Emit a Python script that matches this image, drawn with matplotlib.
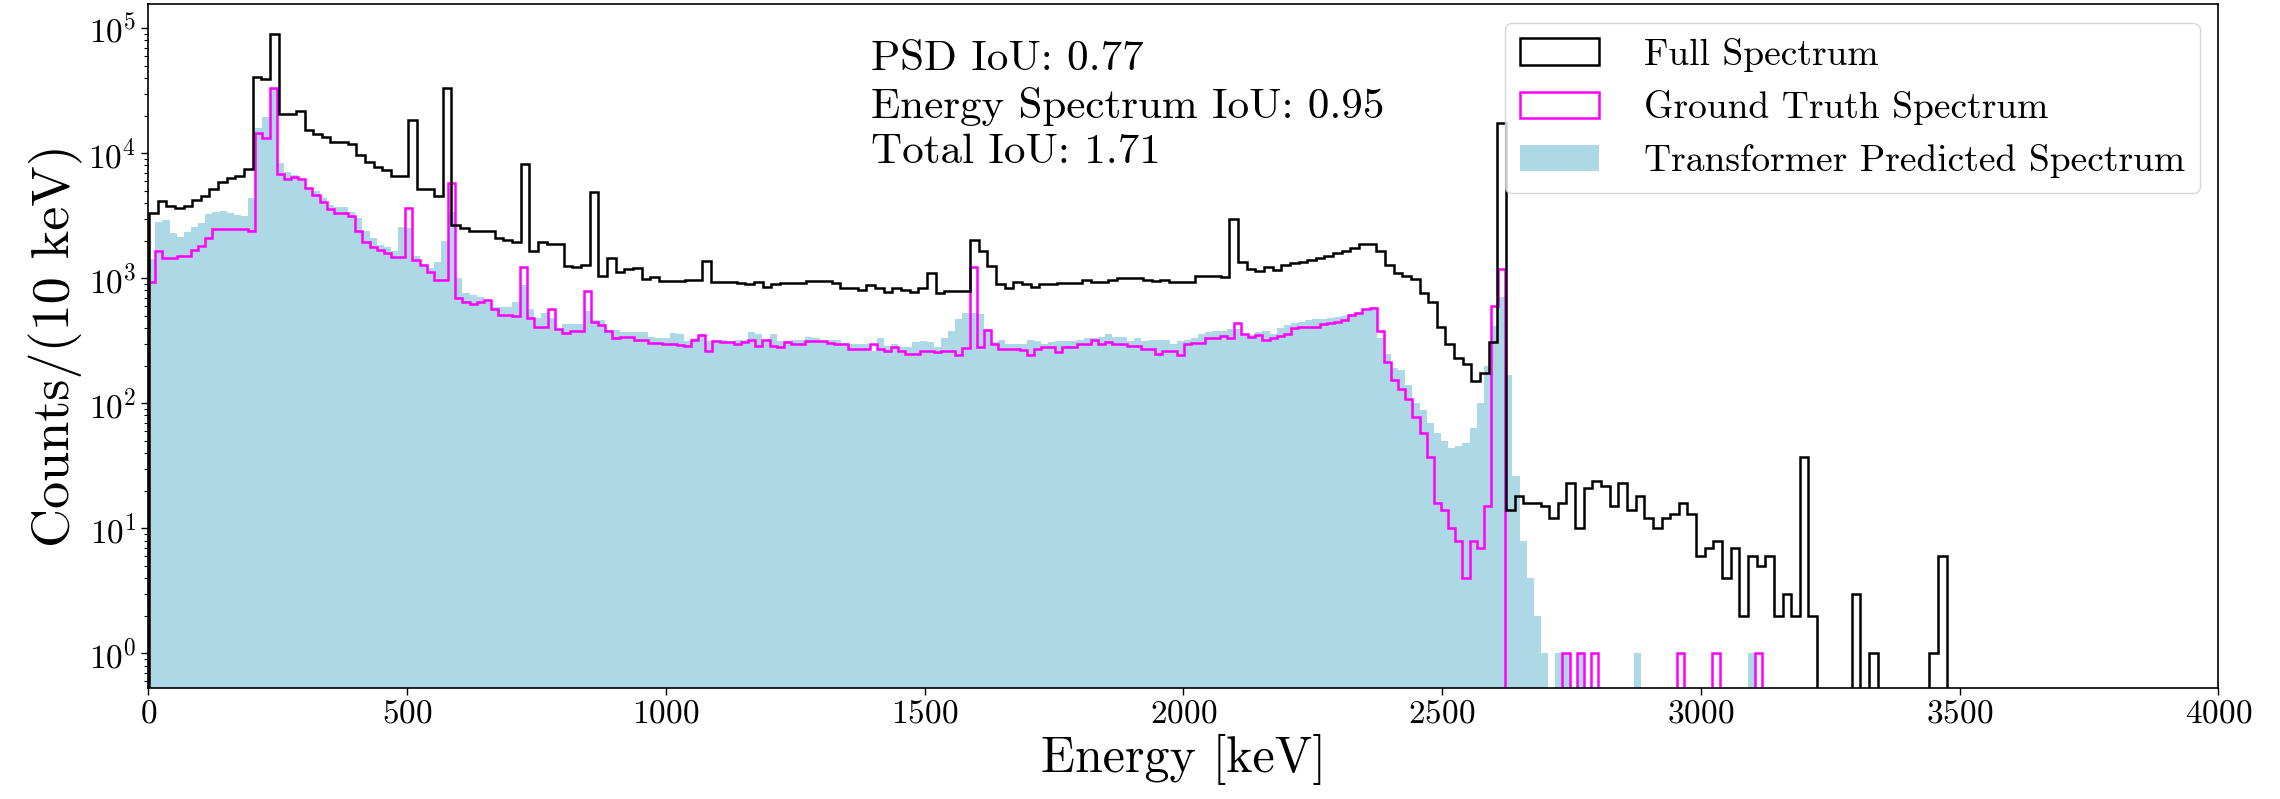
import numpy as np
import matplotlib
matplotlib.use("Agg")
import matplotlib.pyplot as plt

plt.rcParams['font.family'] = 'serif'
plt.rcParams['font.serif'] = ['cmr10']
plt.rcParams['mathtext.fontset'] = 'cm'
plt.rcParams['axes.formatter.use_mathtext'] = True
plt.rcParams['axes.unicode_minus'] = False

# ——— binning (keV) ———
FULL_START, FULL_WIDTH = 1.5, 16.7     # full spectrum, 208 bins
PRED_START, PRED_WIDTH = 0.0, 13.8     # ground truth / prediction, 227 bins

# ——— Full Spectrum counts per bin ———
full_counts = [
    3300, 4140, 3790, 3660, 3790, 4200, 4570, 5160, 5930, 6310,
    6600, 7450, 40700, 39100, 89200, 20700, 20700, 21900, 15200, 14300,
    13500, 12200, 12200, 11800, 9700, 8430, 7770, 7330, 6600, 6600,
    18600, 5160, 5160, 4570, 33000, 2690, 2540, 2380, 2380, 2380,
    2100, 2020, 1940, 8220, 1640, 1940, 1890, 1890, 1257, 1236,
    1288, 4880, 1050, 1455, 1122, 1186, 1216, 984, 1033, 952,
    952, 952, 968, 968, 1364, 929, 929, 940, 920, 906,
    937, 857, 892, 922, 922, 922, 945, 945, 945, 915,
    843, 843, 809, 885, 830, 776, 836, 809, 770, 836,
    1094, 757, 788, 788, 788, 2020, 1640, 1256, 892, 836,
    929, 906, 857, 892, 892, 915, 915, 915, 968, 929,
    929, 968, 1008, 1008, 1008, 968, 952, 968, 929, 929,
    929, 1050, 1050, 1050, 1030, 2960, 1342, 1186, 1140, 1236,
    1167, 1267, 1320, 1342, 1397, 1455, 1517, 1580, 1646, 1742,
    1890, 1890, 1646, 1267, 1094, 1050, 984, 757, 644, 411,
    296, 232, 205, 150, 174, 308, 17600, 14, 18, 16,
    16, 15, 12, 16, 23, 10, 21, 24, 22, 15,
    23, 14, 18, 12, 10, 12, 13, 16, 13, 6,
    7, 8, 4, 7, 2, 6, 5, 6, 2, 3,
    2, 37, 2, 0, 0, 0, 0, 3, 0, 1,
    0, 0, 0, 0, 0, 0, 1, 6,
]

# ——— Ground Truth counts per bin ———
gt_counts = [
    929, 1650, 1460, 1440, 1500, 1500, 1680, 1800, 2085, 2500,
    2460, 2460, 2460, 2460, 2400, 14560, 13120, 33000, 6760, 6170,
    6400, 6170, 5230, 4600, 4100, 3575, 3300, 3300, 3150, 2378,
    1940, 1786, 1686, 1580, 1480, 1480, 3630, 1397, 1267, 1122,
    968, 968, 5740, 700, 650, 618, 644, 665, 569, 504,
    504, 500, 1236, 483, 411, 411, 569, 394, 363, 378,
    378, 788, 446, 420, 378, 330, 341, 341, 322, 322,
    303, 303, 296, 300, 295, 289, 322, 349, 262, 314,
    309, 309, 296, 309, 322, 289, 322, 289, 284, 309,
    296, 296, 314, 314, 314, 303, 296, 296, 273, 273,
    273, 296, 270, 262, 280, 262, 250, 250, 262, 262,
    255, 262, 262, 244, 277, 1236, 284, 388, 296, 273,
    273, 273, 265, 244, 273, 284, 284, 255, 284, 284,
    296, 296, 322, 296, 309, 296, 296, 289, 289, 273,
    273, 250, 262, 262, 244, 296, 303, 303, 335, 335,
    345, 335, 435, 357, 341, 349, 322, 335, 345, 360,
    400, 411, 411, 411, 428, 435, 446, 464, 505, 530,
    569, 580, 378, 214, 155, 130, 108, 78, 58, 37,
    16, 14, 10, 8, 4, 8, 7, 15, 600, 1180,
    0, 0, 0, 0, 0, 0, 0, 0, 1, 0,
    1, 0, 1, 0, 0, 0, 0, 0, 0, 0,
    0, 0, 0, 0, 1, 0, 0, 0, 0, 1,
    0, 0, 0, 0, 0, 1, 0,
]

# ——— Transformer prediction counts per bin ———
pred_counts = [
    1416, 2830, 2920, 2285, 2147, 2355, 2580, 2780, 3260, 3400,
    3465, 3340, 3200, 3140, 4350, 15800, 19500, 33000, 8400, 7100,
    6680, 6000, 5300, 5000, 4400, 3880, 3730, 3730, 3400, 3050,
    2380, 2110, 1860, 1790, 1640, 2580, 2540, 1520, 1300, 1200,
    1350, 2000, 3380, 1000, 760, 730, 710, 670, 590, 593,
    593, 644, 877, 569, 483, 525, 483, 394, 428, 428,
    428, 547, 464, 464, 388, 388, 369, 369, 369, 369,
    341, 335, 335, 363, 357, 314, 335, 357, 314, 322,
    322, 314, 322, 322, 369, 357, 322, 357, 314, 314,
    322, 322, 341, 330, 322, 322, 322, 303, 296, 296,
    296, 262, 330, 289, 296, 284, 284, 309, 314, 309,
    284, 335, 378, 471, 525, 525, 514, 394, 309, 322,
    300, 296, 296, 322, 314, 296, 309, 314, 314, 314,
    322, 335, 335, 341, 357, 341, 341, 314, 335, 314,
    322, 322, 322, 296, 314, 322, 335, 357, 369, 378,
    378, 394, 394, 360, 350, 370, 380, 360, 400, 420,
    440, 445, 460, 470, 470, 480, 490, 500, 520, 540,
    560, 590, 330, 250, 190, 185, 140, 100, 88, 70,
    58, 50, 44, 46, 48, 63, 100, 200, 419, 703,
    170, 26, 8, 4, 2, 1, 0, 1, 1, 0,
    1, 0, 0, 0, 0, 0, 0, 0, 1, 0,
    0, 0, 0, 0, 0, 0, 0, 0, 0, 0,
    0, 0, 0, 0, 1, 0, 0,
]

iou_text = "PSD IoU: 0.77\nEnergy Spectrum IoU: 0.95\nTotal IoU: 1.71"
labels = ["Full Spectrum", "Ground Truth Spectrum", "Transformer Predicted Spectrum"]

full_edges = FULL_START + FULL_WIDTH * np.arange(len(full_counts) + 1)
pred_edges = PRED_START + PRED_WIDTH * np.arange(len(gt_counts) + 1)

fig = plt.figure(figsize=(22.8, 7.99), dpi=100)
ax = fig.add_axes([0.065, 0.139, 0.908, 0.856])

ax.hist(pred_edges[:-1], bins=pred_edges, weights=pred_counts, histtype='stepfilled',
        color='lightblue', label=labels[2], zorder=1, log=True)
ax.hist(full_edges[:-1], bins=full_edges, weights=full_counts, histtype='step',
        color='black', lw=1.8, label=labels[0], zorder=3, log=True)
ax.hist(pred_edges[:-1], bins=pred_edges, weights=gt_counts, histtype='step',
        color='magenta', lw=1.8, label=labels[1], zorder=2, log=True)

ax.set_xlim(0, 4000)
ax.set_ylim(0.53, 1.56e5)
ax.set_xlabel("Energy [keV]", fontsize=36)
ax.set_ylabel("Counts/(10 keV)", fontsize=39)
ax.tick_params(axis='both', which='major', labelsize=24, length=5, width=1)
ax.tick_params(axis='both', which='minor', length=3, width=0.8)
for s in ax.spines.values():
    s.set_linewidth(1.2)

ax.text(0.349, 0.946, iou_text, transform=ax.transAxes, va='top', ha='left',
        fontsize=31, linespacing=1.27)

h, l = ax.get_legend_handles_labels()
order = [l.index(x) for x in labels]
ax.legend([h[i] for i in order], [l[i] for i in order], loc='upper right', fontsize=27,
          handlelength=2.1, handletextpad=1.2)

fig.savefig("out.png", dpi=100)
